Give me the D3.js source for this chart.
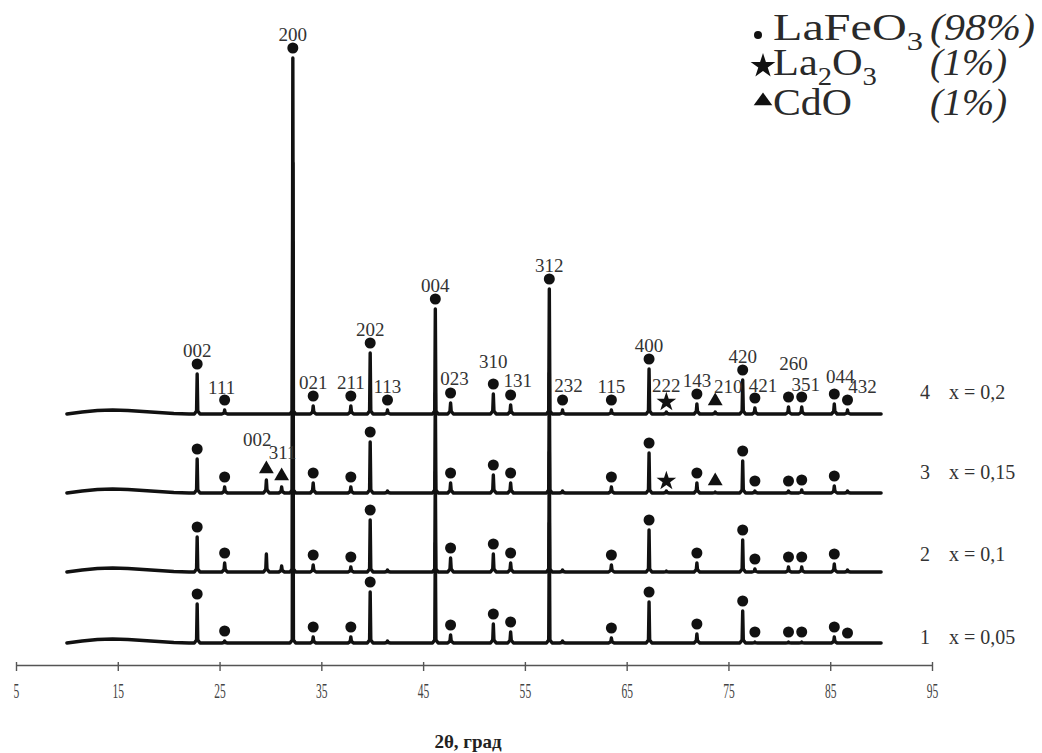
<!DOCTYPE html>
<html><head><meta charset="utf-8">
<script src="https://cdn.jsdelivr.net/npm/d3@7"></script>
<style>body{margin:0;background:#fff}svg{display:block}</style>
</head><body>
<svg id="chart" width="1042" height="753"></svg>
<script>
// ---------- data ----------
const peakPos   = [22.8, 25.5, 29.6, 31.1, 32.2, 34.2, 37.9, 39.8, 41.5, 46.2, 47.7, 51.9, 53.6, 57.4, 58.7, 63.5, 67.2, 68.9, 71.9, 73.7, 76.4, 77.6, 80.9, 82.2, 85.4, 86.7];
const peakHkl   = ["002","111","002","311","200","021","211","202","113","004","023","310","131","312","232","115","400","222","143","210","420","421","260","351","044","432"];
const peakPhase = ["L","L","C","C","L","L","L","L","L","L","L","L","L","L","L","L","L","S","L","C","L","L","L","L","L","L"];

const sampleNo = ["1", "2", "3", "4"];
const sampleX  = ["x = 0,05", "x = 0,1", "x = 0,15", "x = 0,2"];
const sampleOffset = [22, 93, 172, 251];

const heights1 = [39, 2, 0, 0, 330, 6, 6, 51, 2, 100, 8, 19, 11, 120, 2, 5, 41, 0, 9, 0, 32, 1, 1, 1, 6, 0];
const heights2 = [35, 9, 18, 6, 330, 7, 5, 52, 2, 100, 14, 18, 9, 120, 2, 7, 42, 1, 9, 0, 32, 3, 5, 5, 8, 2];
const heights3 = [34, 6, 13, 6, 330, 10, 6, 51, 2, 100, 10, 18, 10, 120, 2, 6, 40, 2, 10, 1, 32, 2, 2, 3, 7, 2];
const heights4 = [40, 4, 0, 0, 356, 8, 8, 61, 4, 105, 11, 20, 9, 125, 4, 4, 45, 2, 10, 2, 34, 6, 7, 7, 10, 4];

const marked1 = [1,1,0,0,0,1,1,1,0,0,1,1,1,0,0,1,1,0,1,0,1,1,1,1,1,1];
const marked2 = [1,1,0,0,0,1,1,1,0,0,1,1,1,0,0,1,1,0,1,0,1,1,1,1,1,0];
const marked3 = [1,1,1,1,0,1,1,1,0,0,1,1,1,0,0,1,1,1,1,1,1,1,1,1,1,0];
const marked4 = [1,1,0,0,1,1,1,1,1,1,1,1,1,1,1,1,1,1,1,1,1,1,1,1,1,1];

const labelled1 = [0,0,0,0,0,0,0,0,0,0,0,0,0,0,0,0,0,0,0,0,0,0,0,0,0,0];
const labelled2 = [0,0,0,0,0,0,0,0,0,0,0,0,0,0,0,0,0,0,0,0,0,0,0,0,0,0];
const labelled3 = [0,0,1,1,0,0,0,0,0,0,0,0,0,0,0,0,0,0,0,0,0,0,0,0,0,0];
const labelled4 = [1,1,0,0,1,1,1,1,1,1,1,1,1,1,1,1,1,1,1,1,1,1,1,1,1,1];

const bgPos   = [10, 11.5, 13, 14.5, 16, 17.5, 19, 20.5, 22];
const bgLevel = [0, 2, 3.5, 4, 3.5, 2.5, 1.5, 0.5, 0];
const scanEnd = 90;

const phaseCodes = ["L", "S", "C"];
const phasePct   = ["(98%)", "(1%)", "(1%)"];
const tickVals   = [5, 15, 25, 35, 45, 55, 65, 75, 85, 95];
const xTitle     = "2θ, град";

// ---------- layout ----------
const heights  = [heights1, heights2, heights3, heights4];
const marked   = [marked1, marked2, marked3, marked4];
const labelled = [labelled1, labelled2, labelled3, labelled4];
const labelNudge = { // [dx, dy] extra, per curve index -> peak index
  3: {1:[-3,1], 10:[4,-1], 11:[0,-9], 12:[7,-1], 14:[6,-1], 17:[0,-3], 19:[13,-1], 21:[8,1], 22:[5,-20], 23:[4,1], 24:[6,-4], 25:[15,0]},
  2: {2:[-9,-16], 3:[1,-10]}
};
const sampleLabelLift = [6, 18, 21, 22];

const svg = d3.select("#chart");
const x = d3.scaleLinear().domain([5, 95]).range([16, 932]);
const y = d3.scaleLinear().domain([0, 605]).range([665, 60]);
const serif = "'Liberation Serif','Times New Roman',serif";

// ---------- axis ----------
const axis = d3.axisBottom(x).tickValues(tickVals).tickSize(6).tickSizeOuter(0).tickPadding(12);
const gAx = svg.append("g").attr("transform", `translate(0,${y(0)})`).call(axis);
gAx.select(".domain").attr("stroke", "#555").attr("stroke-width", 1.6);
gAx.selectAll(".tick line").attr("stroke", "#555").attr("stroke-width", 1.4).attr("y1", -3).attr("y2", 6);
gAx.selectAll(".tick text").attr("font-family", serif).attr("font-size", 21).attr("fill", "#444")
   .attr("transform", "scale(0.55,1)");

svg.append("text").attr("x", 468).attr("y", 748).attr("text-anchor", "middle")
   .attr("font-family", serif).attr("font-weight", "bold").attr("font-size", 19).attr("fill", "#222")
   .text(xTitle);

// ---------- curves ----------
const line = d3.line().curve(d3.curveLinear);
const gLines = svg.append("g");
const gMarks = svg.append("g");
const gLabels = svg.append("g");

function symbolFor(phase, size) {
  if (phase === "S") return d3.symbol().type(d3.symbolStar).size(size.star)();
  if (phase === "C") return d3.symbol().type(d3.symbolTriangle).size(size.tri)();
  return null;
}

for (let c = 0; c < 4; c++) {
  const off = sampleOffset[c];
  const h = heights[c];
  const pts = bgPos.map((p, i) => [p, bgLevel[i]]);
  peakPos.forEach((p, i) => {
    const hi = h[i];
    if (hi > 0) {
      const sh = Math.min(hi * 0.25, 3);
      pts.push([p - 0.28, 0], [p - 0.06, sh], [p, hi], [p + 0.06, sh], [p + 0.28, 0]);
    }
  });
  pts.push([scanEnd, 0]);
  gLines.append("path")
    .attr("d", line(pts.map(d => [x(d[0]), y(off + d[1])])))
    .attr("fill", "none").attr("stroke", "#111").attr("stroke-width", 3.4)
    .attr("stroke-linejoin", "round").attr("stroke-linecap", "round");

  peakPos.forEach((p, i) => {
    if (!marked[c][i]) return;
    const px = x(p);
    const gap = peakPhase[i] === "C" ? 11 : 10;
    const py = y(off + h[i]) - gap;
    if (peakPhase[i] === "L") {
      gMarks.append("circle").attr("cx", px).attr("cy", py).attr("r", 5.5).attr("fill", "#111");
    } else {
      gMarks.append("path").attr("d", symbolFor(peakPhase[i], {star: 120, tri: 95}))
        .attr("transform", `translate(${px},${py})`).attr("fill", "#111");
    }
    if (labelled[c][i]) {
      const nd = (labelNudge[c] && labelNudge[c][i]) || [0, 0];
      gLabels.append("text").attr("x", px + nd[0]).attr("y", py - 14 + nd[1])
        .attr("dy", "0.35em").attr("text-anchor", "middle")
        .attr("font-family", serif).attr("font-size", 19).attr("fill", "#333")
        .text(peakHkl[i]);
    }
  });

  const ly = y(off + sampleLabelLift[c]);
  svg.append("text").attr("x", 925).attr("y", ly).attr("dy", "0.35em").attr("text-anchor", "middle")
    .attr("font-family", serif).attr("font-size", 20).attr("fill", "#333").text(sampleNo[c]);
  svg.append("text").attr("x", 949).attr("y", ly).attr("dy", "0.35em")
    .attr("font-family", serif).attr("font-size", 20).attr("fill", "#333").text(sampleX[c]);
}

// ---------- legend ----------
const legend = svg.append("g");
function fitWidth(sel, x0, target) {
  const w = sel.node().getBBox().width;
  const k = target / w;
  sel.attr("transform", `translate(${x0},0) scale(${k},1) translate(${-x0},0)`);
}
const rows = [
  {base: 40, parts: [["LaFeO", false], ["3", true]], target: 150},
  {base: 75, parts: [["La", false], ["2", true], ["O", false], ["3", true]], target: 104},
  {base: 115, parts: [["CdO", false]], target: 79}
];
rows.forEach((r, k) => {
  const t = legend.append("text").attr("x", 773).attr("y", r.base)
    .attr("font-family", serif).attr("font-size", 37).attr("fill", "#2a2a2a");
  let sub = false;
  r.parts.forEach(([s, isSub]) => {
    const ts = t.append("tspan").text(s);
    if (isSub && !sub) { ts.attr("dy", 10).attr("font-size", 25); sub = true; }
    else if (isSub) { ts.attr("font-size", 25); }
    else if (sub) { ts.attr("dy", -10); sub = false; }
  });
  fitWidth(t, 773, r.target);
  const pt = legend.append("text").attr("x", 930).attr("y", r.base)
    .attr("font-family", serif).attr("font-style", "italic").attr("font-size", 37).attr("fill", "#2a2a2a")
    .text(phasePct[k]);
  fitWidth(pt, 930, k === 0 ? 105 : 77);
});
legend.append("circle").attr("cx", 758).attr("cy", 35).attr("r", 4).attr("fill", "#111");
legend.append("path").attr("d", d3.symbol().type(d3.symbolStar).size(190)())
  .attr("transform", "translate(763,66)").attr("fill", "#111");
legend.append("path").attr("d", d3.symbol().type(d3.symbolTriangle).size(150)())
  .attr("transform", "translate(763,101) scale(1,0.8)").attr("fill", "#111");
</script>
</body></html>
